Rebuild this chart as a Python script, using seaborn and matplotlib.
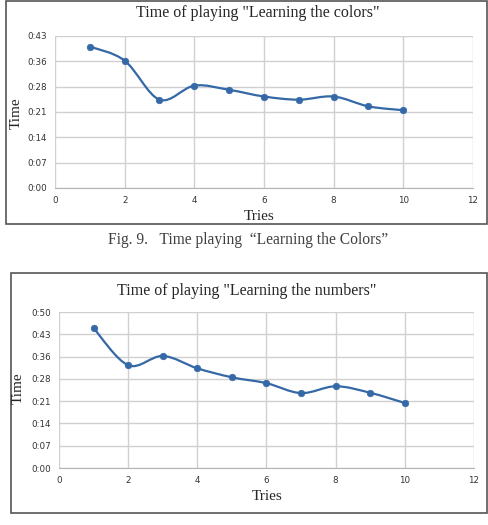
import numpy as np
import matplotlib
matplotlib.use("Agg")
import matplotlib.pyplot as plt
from matplotlib.path import Path
from matplotlib.patches import PathPatch, Rectangle
from matplotlib.ticker import FuncFormatter
import seaborn as sns

# data (seconds)
tries = [1, 2, 3, 4, 5, 6, 7, 8, 9, 10]
colors_time = [40.2, 36.2, 25.1, 29.1, 27.9, 26.0, 25.1, 26.0, 23.2, 22.1]
numbers_time = [45.2, 33.2, 36.2, 32.2, 29.3, 27.4, 24.2, 26.4, 24.3, 21.0]
x_ticks = [0, 2, 4, 6, 8, 10, 12]
y_step = 7.2

sns.set_style("white")
plt.rcParams['font.family'] = ['DejaVu Sans']

W, H = 489, 525
LINE = "#3468a6"
GRID = "#d0d0d0"
SERIF = ['Liberation Serif', 'DejaVu Serif']


def px_rect(x0, y0, x1, y1):
    return [x0 / W, 1 - y1 / H, (x1 - x0) / W, (y1 - y0) / H]


def smooth_path(xs, ys):
    # excel-like smoothed line: cubic bezier through the points
    p = np.column_stack([xs, ys]).astype(float)
    n = len(p)
    verts = [p[0]]
    codes = [Path.MOVETO]
    for i in range(n - 1):
        prev = p[i - 1] if i > 0 else p[i]
        nxt = p[i + 2] if i + 2 < n else p[i + 1]
        c1 = p[i] + (p[i + 1] - prev) / 6
        c2 = p[i + 1] - (nxt - p[i]) / 6
        verts += [c1, c2, p[i + 1]]
        codes += [Path.CURVE4] * 3
    return Path(verts, codes)


def time_fmt(v, pos):
    s = int(np.floor(v + 1e-6))
    return f"{s // 60}:{s % 60:02d}"


def draw(rect, values, n_y, title, title_xy, ylab_xy, xlab_xy):
    ax = fig.add_axes(px_rect(*rect))
    ymax = n_y * y_step
    sns.scatterplot(x=tries, y=values, ax=ax, color=LINE, s=22,
                    edgecolor=LINE, linewidth=0.5, zorder=4)
    ax.add_patch(PathPatch(smooth_path(tries, values), fill=False,
                           edgecolor=LINE, lw=1.6, zorder=3))
    ax.set_xlim(0, 12)
    ax.set_ylim(0, ymax)
    ax.set_xticks(x_ticks)
    ax.set_yticks([i * y_step for i in range(n_y + 1)])
    ax.yaxis.set_major_formatter(FuncFormatter(time_fmt))
    ax.grid(True, color=GRID, lw=1.0)
    ax.set_axisbelow(True)
    for sp in ax.spines.values():
        sp.set_visible(False)
    ax.spines['bottom'].set_visible(True)
    ax.spines['bottom'].set_color("#b5b5b5")
    ax.tick_params(labelsize=6.3, length=0, pad=6, colors="#333333")
    fig.text(title_xy[0] / W, 1 - title_xy[1] / H, title, family=SERIF,
             fontsize=11.5, ha='center', va='center')
    fig.text(ylab_xy[0] / W, 1 - ylab_xy[1] / H, "Time", family=SERIF,
             fontsize=11, ha='center', va='center', rotation=90)
    fig.text(xlab_xy[0] / W, 1 - xlab_xy[1] / H, "Tries", family=SERIF,
             fontsize=11, ha='center', va='center')


fig = plt.figure(figsize=(W / 100, H / 100), dpi=100)

# panel frames
fig.patches.append(Rectangle((6 / W, 1 - 224 / H), 481 / W, 223 / H,
                             transform=fig.transFigure, fill=False,
                             edgecolor="#555555", lw=1.2))
fig.patches.append(Rectangle((11 / W, 1 - 513 / H), 476 / W, 240 / H,
                             transform=fig.transFigure, fill=False,
                             edgecolor="#555555", lw=1.2))

draw((55, 36, 473, 188), colors_time, 6,
     'Time of playing "Learning the colors"', (258, 13), (16, 113), (259, 216))
draw((59, 312, 474, 468), numbers_time, 7,
     'Time of playing "Learning the numbers"', (247, 291), (18, 388), (267, 497))

fig.text(248 / W, 1 - 240 / H, "Fig. 9.   Time playing  \u201cLearning the Colors\u201d",
         family=SERIF, fontsize=11.2, ha='center', va='center', color="#404040")

fig.savefig("out.png", dpi=100)
